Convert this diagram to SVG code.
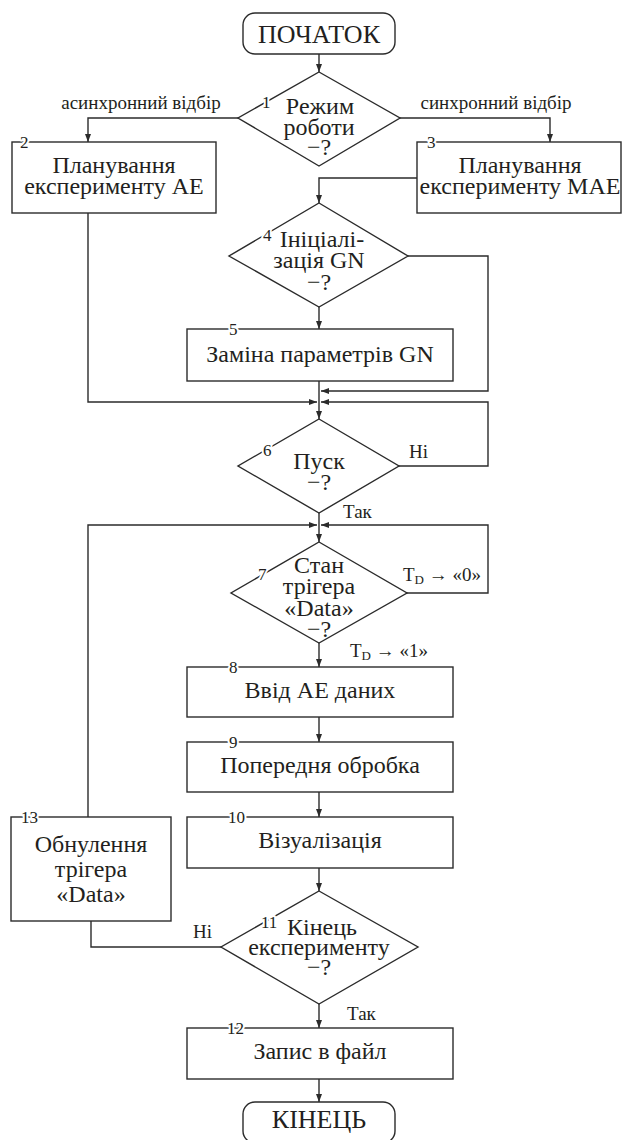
<svg xmlns="http://www.w3.org/2000/svg" width="622" height="1140" viewBox="0 0 622 1140">
<style>
.shape{fill:#fff;stroke:#2b2b2b;stroke-width:1.4}
.c{fill:none;stroke:#2b2b2b;stroke-width:1.4}
text{font-family:"Liberation Serif","Times New Roman",serif;fill:#231f20}
.t{font-size:24px;text-anchor:middle}
.term{font-size:26px;text-anchor:middle}
.lbl{font-size:19px}
.num{font-size:17px;stroke:#fff;stroke-width:4;paint-order:stroke;stroke-linejoin:round}
</style>
<defs>
<marker id="ah" markerUnits="userSpaceOnUse" markerWidth="9" markerHeight="7" refX="8" refY="3" orient="auto">
<path d="M0,0 L8,3 L0,6 z" fill="#2b2b2b"/>
</marker>
</defs>
<rect width="622" height="1140" fill="#fff"/>

<g id="connectors">
<path class="c" d="M319,54 V72" marker-end="url(#ah)"/>
<path class="c" d="M238,118 H88 V142" marker-end="url(#ah)"/>
<path class="c" d="M400,118 H550 V142" marker-end="url(#ah)"/>
<path class="c" d="M417,178 H319 V203" marker-end="url(#ah)"/>
<path class="c" d="M319,307 V329" marker-end="url(#ah)"/>
<path class="c" d="M408,256 H488 V391 H321" marker-end="url(#ah)"/>
<path class="c" d="M88,213 V402 H317" marker-end="url(#ah)"/>
<path class="c" d="M319,381 V419" marker-end="url(#ah)"/>
<path class="c" d="M399,466 H488 V402 H321" marker-end="url(#ah)"/>
<path class="c" d="M319,513 V542" marker-end="url(#ah)"/>
<path class="c" d="M407,593 H488 V525 H321" marker-end="url(#ah)"/>
<path class="c" d="M88,817 V525 H317" marker-end="url(#ah)"/>
<path class="c" d="M319,643 V667" marker-end="url(#ah)"/>
<path class="c" d="M319,717 V742" marker-end="url(#ah)"/>
<path class="c" d="M319,792 V817" marker-end="url(#ah)"/>
<path class="c" d="M319,868 V891" marker-end="url(#ah)"/>
<path class="c" d="M221,947 H91 V921"/>
<path class="c" d="M319,1004 V1028" marker-end="url(#ah)"/>
<path class="c" d="M319,1079 V1102" marker-end="url(#ah)"/>
<text class="lbl" x="141" y="109" text-anchor="middle">асинхронний відбір</text>
<text class="lbl" x="496" y="109" text-anchor="middle">синхронний відбір</text>
<text class="lbl" x="409" y="458">Ні</text>
<text class="lbl" x="343" y="518">Так</text>
<text class="lbl" x="403" y="581">T<tspan font-size="13" dy="3">D</tspan><tspan dy="-3"> → «0»</tspan></text>
<text class="lbl" x="350" y="657">T<tspan font-size="13" dy="3">D</tspan><tspan dy="-3"> → «1»</tspan></text>
<text class="lbl" x="193" y="938">Ні</text>
<text class="lbl" x="347" y="1020">Так</text>
</g>

<g id="start">
<rect class="shape" x="243" y="13" width="152" height="41" rx="12"/>
<text class="term" x="319" y="43">ПОЧАТОК</text>
</g>

<g id="n1">
<polygon class="shape" points="319,72 400,118 319,166 238,118"/>
<text class="num" x="262" y="108">1</text>
<text class="t" x="320" y="114">Режим</text>
<text class="t" x="319" y="135">роботи</text>
<text class="t" x="319" y="155">−?</text>
</g>

<g id="n2">
<rect class="shape" x="12" y="142" width="204" height="71"/>
<text class="num" x="20" y="148">2</text>
<text class="t" x="114" y="173">Планування</text>
<text class="t" x="114" y="194">експерименту АЕ</text>
</g>

<g id="n3">
<rect class="shape" x="417" y="142" width="204" height="71"/>
<text class="num" x="427" y="148">3</text>
<text class="t" x="520" y="173">Планування</text>
<text class="t" x="520" y="194">експерименту МАЕ</text>
</g>

<g id="n4">
<polygon class="shape" points="319,203 408,256 319,307 229,256"/>
<text class="num" x="263" y="241">4</text>
<text class="t" x="322" y="247">Ініціалі-</text>
<text class="t" x="319" y="268">зація GN</text>
<text class="t" x="319" y="290">−?</text>
</g>

<g id="n5">
<rect class="shape" x="187" y="329" width="266" height="52"/>
<text class="num" x="229" y="335">5</text>
<text class="t" x="320" y="362">Заміна параметрів GN</text>
</g>

<g id="n6">
<polygon class="shape" points="319,419 399,466 319,513 238,466"/>
<text class="num" x="263" y="456">6</text>
<text class="t" x="319" y="469">Пуск</text>
<text class="t" x="319" y="490">−?</text>
</g>

<g id="n7">
<polygon class="shape" points="319,542 407,593 319,643 231,593"/>
<text class="num" x="258" y="580">7</text>
<text class="t" x="319" y="573">Стан</text>
<text class="t" x="319" y="594">трігера</text>
<text class="t" x="319" y="616">«Data»</text>
<text class="t" x="319" y="637">−?</text>
</g>

<g id="n8">
<rect class="shape" x="187" y="667" width="266" height="50"/>
<text class="num" x="229" y="673">8</text>
<text class="t" x="320" y="698">Ввід АЕ даних</text>
</g>

<g id="n9">
<rect class="shape" x="187" y="742" width="266" height="50"/>
<text class="num" x="229" y="748">9</text>
<text class="t" x="320" y="773">Попередня обробка</text>
</g>

<g id="n10">
<rect class="shape" x="187" y="817" width="266" height="51"/>
<text class="num" x="228" y="823">10</text>
<text class="t" x="320" y="848">Візуалізація</text>
</g>

<g id="n11">
<polygon class="shape" points="319,891 418,947 319,1004 221,947"/>
<text class="num" x="261" y="928">11</text>
<text class="t" x="322" y="935">Кінець</text>
<text class="t" x="319" y="955">експерименту</text>
<text class="t" x="319" y="975">−?</text>
</g>

<g id="n12">
<rect class="shape" x="187" y="1028" width="266" height="51"/>
<text class="num" x="227" y="1034">12</text>
<text class="t" x="320" y="1059">Запис в файл</text>
</g>

<g id="n13">
<rect class="shape" x="11" y="817" width="160" height="104"/>
<text class="num" x="21" y="823">13</text>
<text class="t" x="91" y="852">Обнулення</text>
<text class="t" x="91" y="877">трігера</text>
<text class="t" x="91" y="902">«Data»</text>
</g>

<g id="end">
<rect class="shape" x="243" y="1102" width="152" height="41" rx="12"/>
<text class="term" x="319" y="1128">КІНЕЦЬ</text>
</g>
</svg>
